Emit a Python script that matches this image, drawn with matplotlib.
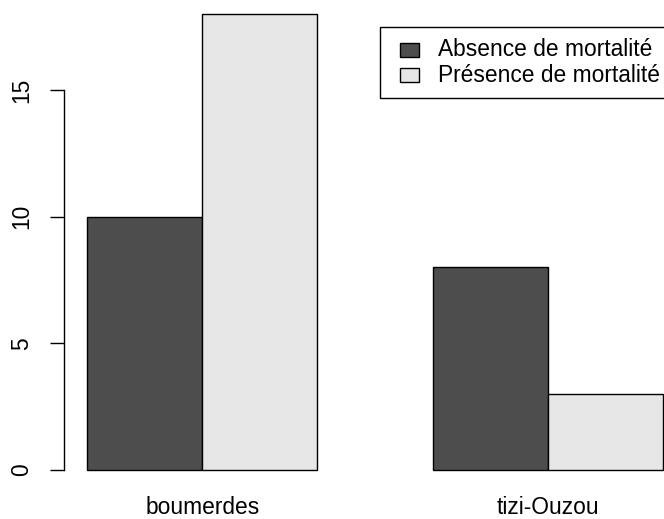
import matplotlib.pyplot as plt
from matplotlib.patches import Rectangle

# data
groups = ['boumerdes', 'tizi-Ouzou']
absence = [10, 8]
presence = [18, 3]
series_labels = ['Absence de mortalité', 'Présence de mortalité']
series_colours = ['#4D4D4D', '#E6E6E6']
y_ticks = [0, 5, 10, 15]

W, H = 664, 519
plt.rcParams['font.family'] = ['Liberation Sans', 'DejaVu Sans']
FS = 16.4


def px(x, y):
    '''pixel position (from top left) -> figure fraction'''
    return x / W, 1 - y / H


fig = plt.figure(figsize=(W / 100, H / 100), dpi=100)
ax = fig.add_axes([64 / W, 31 / H, 622 / W, 492 / H])

# R style beside barplot: bars of width 1, one empty slot between groups
for i, (a, p) in enumerate(zip(absence, presence)):
    left = 1 + 3 * i
    ax.bar(left, a, width=1, align='edge', color=series_colours[0],
           edgecolor='black', linewidth=1)
    ax.bar(left + 1, p, width=1, align='edge', color=series_colours[1],
           edgecolor='black', linewidth=1)

ax.set_xlim(0.8, 6.2)
ax.set_ylim(-0.72, 18.72)

for side in ['top', 'right', 'bottom']:
    ax.spines[side].set_visible(False)
ax.spines['left'].set_bounds(0, 15)
ax.spines['left'].set_linewidth(1)

ax.set_yticks(y_ticks)
ax.set_yticklabels([str(t) for t in y_ticks], rotation=90, va='center',
                   fontsize=FS)
ax.tick_params(axis='y', length=10, width=1, pad=12)

ax.set_xticks([2 + 3 * i for i in range(len(groups))])
ax.set_xticklabels(groups, fontsize=FS)
ax.tick_params(axis='x', length=0, pad=6)

# legend box drawn by hand, like R's legend()
box_l, box_t, box_b = 380, 27, 98
x0, y0 = px(box_l, box_b)
x1, y1 = px(box_l + 310, box_t)
fig.add_artist(Rectangle((x0, y0), x1 - x0, y1 - y0, transform=fig.transFigure,
                         facecolor='white', edgecolor='black', linewidth=1))
for k, (lab, col) in enumerate(zip(series_labels, series_colours)):
    yc = 50 + 25 * k
    sx0, sy0 = px(400, yc + 7)
    sx1, sy1 = px(419, yc - 7)
    fig.add_artist(Rectangle((sx0, sy0), sx1 - sx0, sy1 - sy0,
                             transform=fig.transFigure, facecolor=col,
                             edgecolor='black', linewidth=1))
    tx, ty = px(438, yc)
    fig.text(tx, ty, lab, fontsize=FS, va='center', ha='left')

fig.savefig('out.png', dpi=100)
